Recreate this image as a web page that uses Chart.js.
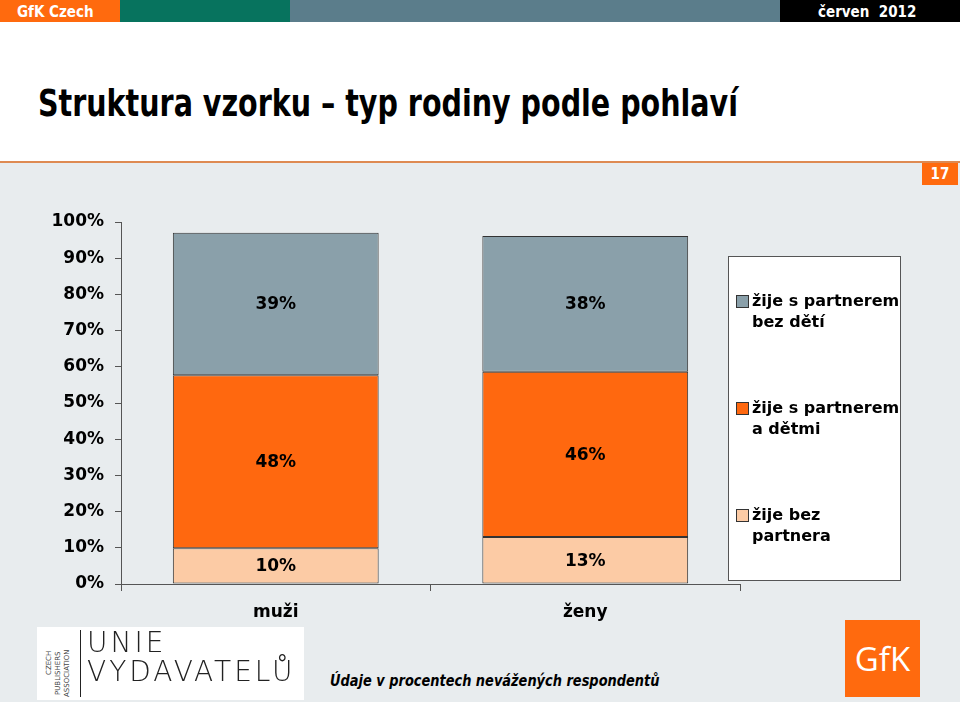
<!DOCTYPE html>
<html>
<head>
<meta charset="utf-8">
<script src="https://cdn.jsdelivr.net/npm/chart.js@4"></script>
<style>
  body { margin: 0; width: 960px; height: 702px; background: #e8ecee; position: relative; overflow: hidden; font-family: "DejaVu Sans", sans-serif; }
  .hdr { position: absolute; top: 0; height: 22px; }
  .hdr span { color: #fff; font: bold 15px "DejaVu Sans Condensed", "DejaVu Sans", sans-serif; position: absolute; top: 3px; }
  #band { position: absolute; top: 22px; left: 0; width: 960px; height: 139px; background: #fff; }
  #title { position: absolute; left: 38px; top: 81px; font: bold 38px "DejaVu Sans Condensed", "DejaVu Sans", sans-serif; color: #000; white-space: nowrap; transform: scaleX(0.835); transform-origin: left top; }
  #rule { position: absolute; left: 0; top: 161px; width: 960px; height: 2px; background: #de8a52; }
  #page { position: absolute; left: 922px; top: 163px; width: 36px; height: 22px; background: #ff6a0e; color: #fff; font: bold 15px "DejaVu Sans Condensed", sans-serif; text-align: center; line-height: 22px; }
  #wrap { position: absolute; left: 0; top: 200px; width: 960px; height: 430px; }
  #unie { position: absolute; left: 37px; top: 627px; width: 267px; height: 73px; background: #fff; }
  #unie .bar { position: absolute; left: 43px; top: 3px; width: 1px; height: 67px; background: #222; }
  #unie .big { position: absolute; left: 50px; font: 200 28px "DejaVu Sans", sans-serif; color: #222; letter-spacing: 3px; }
  #unie .small { position: absolute; font: 7px "DejaVu Sans", sans-serif; color: #444; transform: rotate(-90deg); transform-origin: left top; white-space: nowrap; }
  #note { position: absolute; left: 330px; top: 672px; font: italic bold 15px "DejaVu Sans Condensed", sans-serif; color: #000; white-space: nowrap; transform: scaleX(0.96); transform-origin: left top; }
  #gfk { position: absolute; left: 845px; top: 620px; width: 75px; height: 77px; background: #ff6a0e; color: #fff; font: 33px "Open Sans", sans-serif; text-align: center; line-height: 77px; }
</style>
</head>
<body>
<div class="hdr" style="left:0;width:120px;background:#ff6a0e"><span style="left:17px">GfK Czech</span></div>
<div class="hdr" style="left:120px;width:170px;background:#07735e"></div>
<div class="hdr" style="left:290px;width:490px;background:#5b7d8b"></div>
<div class="hdr" style="left:780px;width:180px;background:#000"><span style="left:38px">červen&nbsp; 2012</span></div>
<div id="band"></div>
<div id="title">Struktura vzorku – typ rodiny podle pohlaví</div>
<div id="rule"></div>
<div id="page">17</div>
<div id="wrap"><canvas id="chart" width="960" height="430"></canvas></div>
<div id="unie">
  <div class="small" style="left:8px;top:48px">CZECH</div>
  <div class="small" style="left:17px;top:68px">PUBLISHERS</div>
  <div class="small" style="left:26px;top:70px">ASSOCIATION</div>
  <div class="bar"></div>
  <div class="big" style="top:-1px">UNIE</div>
  <div class="big" style="top:28px">VYDAVATELŮ</div>
</div>
<div id="note">Údaje v procentech nevážených respondentů</div>
<div id="gfk">GfK</div>
<script>
const categories = ['muži', 'ženy'];
const seriesNames = ['žije bez partnera', 'žije s partnerem a dětmi', 'žije s partnerem bez dětí'];
const bezPartnera = [9.9, 13.0];
const sPartneremDeti = [47.8, 45.6];
const sPartneremBezDeti = [39.3, 37.5];
const seriesColors = ['#fccba5', '#ff680f', '#8aa0aa'];

const font = 'bold 17px "DejaVu Sans", sans-serif';

// popisky hodnot uprostred segmentu
const valueLabels = {
  id: 'valueLabels',
  afterDatasetsDraw(chart) {
    const ctx = chart.ctx;
    ctx.save();
    ctx.font = font;
    ctx.fillStyle = '#000';
    ctx.textAlign = 'center';
    ctx.textBaseline = 'middle';
    chart.data.datasets.forEach((ds, i) => {
      chart.getDatasetMeta(i).data.forEach((bar, j) => {
        ctx.fillText(Math.round(ds.data[j]) + '%', bar.x, (bar.y + bar.base) / 2 + 1);
      });
    });
    ctx.restore();
  }
};

// legenda v ramecku vpravo
const boxLegend = {
  id: 'boxLegend',
  afterDraw(chart) {
    const ctx = chart.ctx;
    ctx.save();
    ctx.fillStyle = '#fff';
    ctx.fillRect(728, 56, 173, 325);
    ctx.strokeStyle = '#555';
    ctx.lineWidth = 1;
    ctx.strokeRect(728.5, 56.5, 172, 324);
    ctx.font = 'bold 16px "DejaVu Sans", sans-serif';
    ctx.textBaseline = 'middle';
    const items = chart.data.datasets.slice().reverse();
    items.forEach((ds, k) => {
      const y = 102 + k * 107;
      ctx.fillStyle = ds.backgroundColor;
      ctx.fillRect(736.5, y - 6.5, 12, 12);
      ctx.strokeStyle = '#333';
      ctx.strokeRect(736.5, y - 6.5, 12, 12);
      // zalomeni textu
      const words = ds.label.split(' ');
      const lines = [];
      let cur = '';
      words.forEach(w => {
        const t = cur ? cur + ' ' + w : w;
        if (ctx.measureText(t).width > 150 && cur) { lines.push(cur); cur = w; } else cur = t;
      });
      lines.push(cur);
      ctx.fillStyle = '#000';
      lines.forEach((l, n) => ctx.fillText(l, 752, y + n * 21));
    });
    ctx.restore();
  }
};

new Chart(document.getElementById('chart'), {
  type: 'bar',
  data: {
    labels: categories,
    datasets: [
      { label: seriesNames[0], data: bezPartnera, backgroundColor: seriesColors[0] },
      { label: seriesNames[1], data: sPartneremDeti, backgroundColor: seriesColors[1] },
      { label: seriesNames[2], data: sPartneremBezDeti, backgroundColor: seriesColors[2] }
    ]
  },
  options: {
    responsive: false,
    animation: false,
    events: [],
    layout: { padding: { top: 22, right: 220, left: 0, bottom: 0 } },
    datasets: { bar: { borderColor: '#333', borderWidth: 1, borderSkipped: false, categoryPercentage: 1, barPercentage: 0.665 } },
    plugins: { legend: { display: false }, tooltip: { enabled: false } },
    scales: {
      x: {
        stacked: true,
        afterFit(s) { s.height = 46; },
        grid: { drawOnChartArea: false, color: '#555', tickLength: 7 },
        border: { color: '#555' },
        ticks: { color: '#000', font: { family: 'DejaVu Sans', size: 17, weight: 'bold' }, padding: 11 }
      },
      y: {
        stacked: true,
        min: 0,
        max: 100,
        afterFit(s) { s.width = 121; },
        grid: { drawOnChartArea: false, color: '#555', tickLength: 6 },
        border: { color: '#555' },
        ticks: { stepSize: 10, color: '#000', font: { family: 'DejaVu Sans', size: 17, weight: 'bold' }, padding: 11, callback: v => v + '%' }
      }
    }
  },
  plugins: [valueLabels, boxLegend]
});
</script>
</body>
</html>
